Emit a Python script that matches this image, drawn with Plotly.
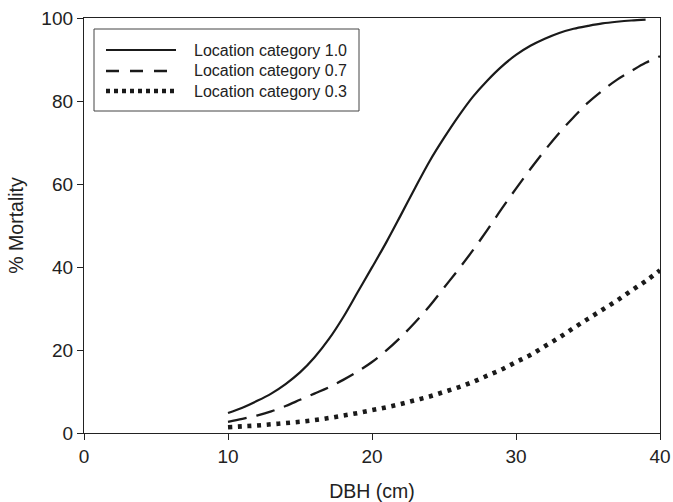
import plotly.graph_objects as go

dbh_solid = list(range(10, 40))
mort_10 = [4.8, 6.1, 7.7, 9.5, 11.8, 14.6, 18.2, 22.6, 27.9, 33.9, 39.9, 46.0, 52.5, 59.1,
           65.5, 71.1, 76.3, 81.0, 84.9, 88.3, 91.1, 93.3, 95.0, 96.4, 97.4, 98.1, 98.7,
           99.1, 99.4, 99.6]

dbh = list(range(10, 41))
mort_07 = [2.7, 3.4, 4.2, 5.2, 6.5, 8.0, 9.5, 11.0, 12.8, 14.8, 17.1, 19.9, 23.1, 26.7,
           30.6, 35.0, 39.4, 44.0, 48.9, 54.0, 58.9, 63.6, 68.1, 72.3, 76.1, 79.6, 82.5,
           85.1, 87.2, 89.2, 90.8]
mort_03 = [1.4, 1.6, 1.8, 2.1, 2.4, 2.7, 3.1, 3.6, 4.2, 4.8, 5.5, 6.2, 7.0, 7.9, 8.8,
           9.9, 11.0, 12.3, 13.8, 15.3, 17.1, 18.8, 20.9, 23.0, 25.3, 27.5, 29.7, 31.9,
           34.3, 36.6, 39.2]

labels = ["Location category 1.0", "Location category 0.7", "Location category 0.3"]
FONT = "Liberation Sans, Arial, sans-serif"
INK = "#1a1a1a"

fig = go.Figure()
fig.add_trace(go.Scatter(x=dbh_solid, y=mort_10, mode="lines", name=labels[0],
                         line=dict(color=INK, width=2.2, shape="spline")))
fig.add_trace(go.Scatter(x=dbh, y=mort_07, mode="lines", name=labels[1],
                         line=dict(color=INK, width=2.3, dash="19px,10px", shape="spline")))
fig.add_trace(go.Scatter(x=dbh, y=mort_03, mode="lines", name=labels[2],
                         line=dict(color=INK, width=4.6, dash="4px,5.7px", shape="spline")))

# custom legend (box, samples, texts); plot area is 576 x 415 px
def px2x(px):
    return (px - 84) / 576

def py2y(py):
    return (433 - py) / 415

shapes = [dict(type="rect", xref="paper", yref="paper", x0=px2x(94), x1=px2x(359),
               y0=py2y(111), y1=py2y(29), line=dict(color="#444", width=1),
               fillcolor="white", layer="below")]
styles = [dict(width=2.2, dash="solid"), dict(width=2.3, dash="13px,11px"),
          dict(width=4.4, dash="4px,4px")]
rows = [50, 71, 91]
annotations = []
for lab, st, py in zip(labels, styles, rows):
    shapes.append(dict(type="line", xref="paper", yref="paper", x0=px2x(106), x1=px2x(176),
                       y0=py2y(py), y1=py2y(py), line=dict(color=INK, **st)))
    annotations.append(dict(text=lab, xref="paper", yref="paper", x=px2x(192), y=py2y(py),
                            xanchor="left", yanchor="middle", showarrow=False,
                            font=dict(family=FONT, size=16, color="#222")))

fig.update_layout(
    width=673, height=502,
    margin=dict(l=84, r=13, t=18, b=69, autoexpand=False),
    plot_bgcolor="white", paper_bgcolor="white",
    showlegend=False,
    shapes=shapes, annotations=annotations,
    font=dict(family=FONT, color="#222"),
)
fig.update_xaxes(range=[0, 40], tickvals=[0, 10, 20, 30, 40], showgrid=False, zeroline=False,
                 showline=True, linecolor="#222", linewidth=1.3, mirror=True,
                 ticks="outside", ticklen=6, tickcolor="#222", automargin=False,
                 ticklabeloverflow="allow",
                 tickfont=dict(size=19), title=dict(text="DBH (cm)", font=dict(size=19.5), standoff=20))
fig.update_yaxes(range=[0, 100], tickvals=[0, 20, 40, 60, 80, 100], showgrid=False, zeroline=False,
                 showline=True, linecolor="#222", linewidth=1.3, mirror=True,
                 ticks="outside", ticklen=6, tickcolor="#222", automargin=False,
                 ticklabeloverflow="allow",
                 tickfont=dict(size=19), title=dict(text="% Mortality", font=dict(size=19.5), standoff=12))

# remove the default page margin so the 673x502 figure fills the window exactly
fig.write_html("out.html", config={"displayModeBar": False},
               post_script="document.body.style.margin='0';document.body.style.overflow='hidden';")
